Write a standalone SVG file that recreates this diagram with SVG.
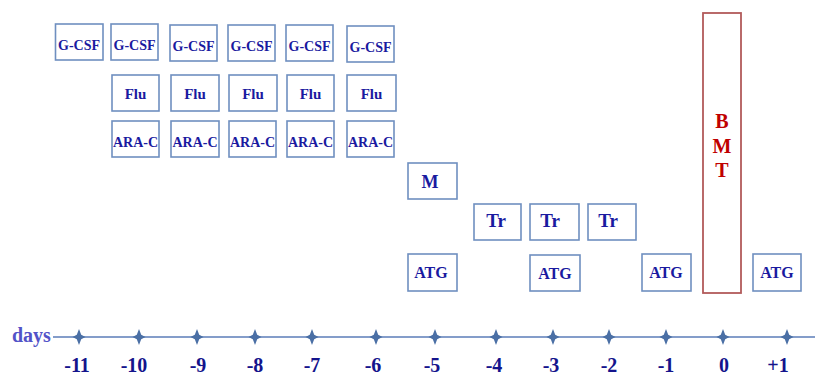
<svg xmlns="http://www.w3.org/2000/svg" width="815" height="376" viewBox="0 0 815 376">
<style>
.b{fill:#fff;stroke:#6f8fc0;stroke-width:1.6}
.t{font-family:"Liberation Serif",serif;font-weight:bold;fill:#1a1aa0;text-anchor:middle}
.g{font-size:14px}
.f{font-size:15px}
.a{font-size:14px}
.m{font-size:18px}
.r{font-size:19px}
.at{font-size:16px}
.bmt{font-family:"Liberation Serif",serif;font-weight:bold;fill:#c00000;font-size:20px;text-anchor:middle}
.d{font-family:"Liberation Serif",serif;font-weight:bold;fill:#14148c;font-size:20px;text-anchor:middle}
.star{fill:#4a6fa5}
</style>
<defs>
<path id="star" class="star" d="M0,-8 L2.2,-2.2 L6.5,0 L2.2,2.2 L0,8 L-2.2,2.2 L-6.5,0 L-2.2,-2.2 Z"/>
</defs>
<rect width="815" height="376" fill="#fff"/>
<g id="gcsf1"><rect class="b" x="55.5" y="24" width="47.5" height="36"/><text class="t g" x="79" y="50">G-CSF</text></g>
<g id="gcsf2"><rect class="b" x="111" y="24" width="47" height="36"/><text class="t g" x="134.5" y="50">G-CSF</text></g>
<g id="gcsf3"><rect class="b" x="170" y="25" width="47" height="36"/><text class="t g" x="193.5" y="51">G-CSF</text></g>
<g id="gcsf4"><rect class="b" x="228" y="25" width="47" height="36"/><text class="t g" x="251.5" y="51">G-CSF</text></g>
<g id="gcsf5"><rect class="b" x="286" y="25" width="47" height="36"/><text class="t g" x="309.5" y="51">G-CSF</text></g>
<g id="gcsf6"><rect class="b" x="347" y="26" width="47" height="36"/><text class="t g" x="370.5" y="52">G-CSF</text></g>
<g id="flu1"><rect class="b" x="112" y="75" width="47" height="36"/><text class="t f" x="135.5" y="99">Flu</text></g>
<g id="flu2"><rect class="b" x="171" y="75" width="48" height="36"/><text class="t f" x="195" y="99">Flu</text></g>
<g id="flu3"><rect class="b" x="229" y="75" width="48" height="36"/><text class="t f" x="253" y="99">Flu</text></g>
<g id="flu4"><rect class="b" x="287" y="75" width="47" height="36"/><text class="t f" x="310.5" y="99">Flu</text></g>
<g id="flu5"><rect class="b" x="347" y="75" width="49" height="36"/><text class="t f" x="371.5" y="99">Flu</text></g>
<g id="arac1"><rect class="b" x="112" y="121" width="47" height="36"/><text class="t a" x="135.5" y="147">ARA-C</text></g>
<g id="arac2"><rect class="b" x="171" y="121" width="48" height="36"/><text class="t a" x="195" y="147">ARA-C</text></g>
<g id="arac3"><rect class="b" x="229" y="121" width="47" height="36"/><text class="t a" x="252.5" y="147">ARA-C</text></g>
<g id="arac4"><rect class="b" x="287" y="121" width="47" height="36"/><text class="t a" x="310.5" y="147">ARA-C</text></g>
<g id="arac5"><rect class="b" x="347" y="121" width="47" height="36"/><text class="t a" x="370.5" y="147">ARA-C</text></g>
<g id="m"><rect class="b" x="408" y="163" width="49" height="36"/><text class="t m" x="430" y="188">M</text></g>
<g id="tr1"><rect class="b" x="474" y="204" width="47" height="36"/><text class="t r" x="496" y="227">Tr</text></g>
<g id="tr2"><rect class="b" x="530" y="204" width="49" height="36"/><text class="t r" x="550" y="227">Tr</text></g>
<g id="tr3"><rect class="b" x="588" y="204" width="48" height="36"/><text class="t r" x="608" y="227">Tr</text></g>
<g id="atg1"><rect class="b" x="408" y="254" width="49" height="37"/><text class="t at" x="431" y="278">ATG</text></g>
<g id="atg2"><rect class="b" x="530" y="255" width="50" height="36"/><text class="t at" x="555" y="279">ATG</text></g>
<g id="atg3"><rect class="b" x="642" y="254" width="49" height="37"/><text class="t at" x="666" y="278">ATG</text></g>
<g id="atg4"><rect class="b" x="753" y="254" width="48" height="37"/><text class="t at" x="777" y="278">ATG</text></g>
<g id="bmt"><rect x="703" y="13" width="38" height="280" fill="#fff" stroke="#b25a5a" stroke-width="1.8"/>
<text class="bmt" x="722" y="128">B</text><text class="bmt" x="722" y="153">M</text><text class="bmt" x="722" y="177">T</text></g>
<g id="connectors">
<line x1="53" y1="337" x2="815" y2="337" stroke="#5b7db8" stroke-width="1.5"/>
<use href="#star" x="79" y="337"/><use href="#star" x="139" y="337"/><use href="#star" x="197" y="337"/>
<use href="#star" x="255" y="337"/><use href="#star" x="312" y="337"/><use href="#star" x="376" y="337"/>
<use href="#star" x="435" y="337"/><use href="#star" x="496" y="337"/><use href="#star" x="553" y="337"/>
<use href="#star" x="609" y="337"/><use href="#star" x="666" y="337"/><use href="#star" x="723" y="337"/>
<use href="#star" x="787" y="337"/>
</g>
<g id="axis-labels">
<text x="12" y="342" font-family="Liberation Serif,serif" font-weight="bold" font-size="20" fill="#5252c8">days</text>
<text class="d" x="77" y="372">-11</text><text class="d" x="134" y="372">-10</text><text class="d" x="198" y="372">-9</text>
<text class="d" x="255" y="372">-8</text><text class="d" x="312" y="372">-7</text><text class="d" x="373" y="372">-6</text>
<text class="d" x="432" y="372">-5</text><text class="d" x="494" y="372">-4</text><text class="d" x="551" y="372">-3</text>
<text class="d" x="609" y="372">-2</text><text class="d" x="666" y="372">-1</text><text class="d" x="724" y="372">0</text>
<text class="d" x="778" y="372">+1</text>
</g>
</svg>
